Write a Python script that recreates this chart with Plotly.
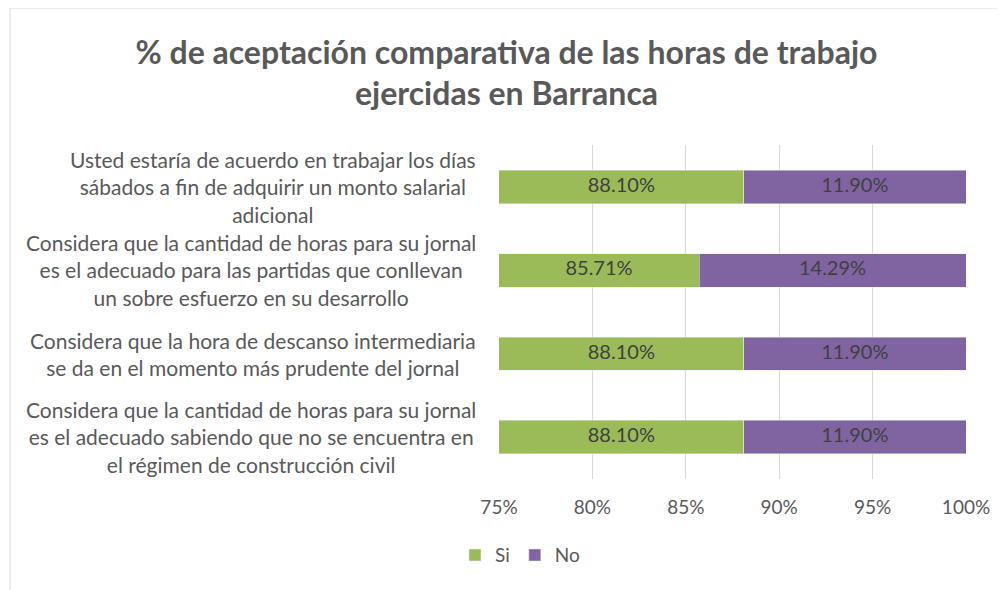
import plotly.graph_objects as go

preguntas = [
    "Usted estaría de acuerdo en trabajar los días<br>sábados a fin de adquirir un monto salarial<br>adicional",
    "Considera que la cantidad de horas para su jornal<br>es el adecuado para las partidas que conllevan<br>un sobre esfuerzo en su desarrollo",
    "Considera que la hora de descanso intermediaria<br>se da en el momento más prudente del jornal",
    "Considera que la cantidad de horas para su jornal<br>es el adecuado sabiendo que no se encuentra en<br>el régimen de construcción civil",
]
si = [88.10, 85.71, 88.10, 88.10]
no = [11.90, 14.29, 11.90, 11.90]

x_min, x_max = 75, 100
font = "Lato, 'Open Sans', sans-serif"

fig = go.Figure()
fig.add_trace(go.Bar(y=preguntas, x=si, name="Si", orientation="h",
                     marker=dict(color="#9BBB59"), width=0.4))
fig.add_trace(go.Bar(y=preguntas, x=no, name="No", orientation="h",
                     marker=dict(color="#8064A2"), width=0.4))

# etiquetas en el centro de la parte visible de cada segmento
fig.add_trace(go.Scatter(
    y=preguntas + preguntas,
    x=[(max(x_min, 0) + s) / 2 for s in si] + [s + n / 2 for s, n in zip(si, no)],
    text=[f"{v:.2f}%" for v in si + no],
    mode="text", textfont=dict(size=20, color="#404040", family=font),
    showlegend=False, hoverinfo="skip",
))

# etiquetas del eje y centradas, varias lineas
for p in preguntas:
    fig.add_annotation(x=0, xref="paper", y=p, yref="y", text=p,
                       xanchor="right", xshift=-21, align="center",
                       showarrow=False, font=dict(size=21, color="#595959", family=font))

fig.add_shape(type="rect", xref="paper", yref="paper",
              x0=-1.047, x1=1.2, y0=-0.34, y1=1.41,
              line=dict(color="#D9D9D9", width=1))

fig.update_layout(
    barmode="stack",
    width=997, height=582,
    margin=dict(l=491, r=39, t=137, b=111),
    paper_bgcolor="white", plot_bgcolor="white",
    font=dict(family=font, color="#595959"),
    title=dict(text="<b>% de aceptación comparativa de las horas de trabajo<br>ejercidas en Barranca</b>",
               x=0.5, xanchor="center", y=0.904, yanchor="middle",
               font=dict(size=32, color="#595959", family=font)),
    legend=dict(orientation="h", x=0.045, xanchor="center", y=-0.228, yanchor="middle",
                font=dict(size=19, color="#595959"), traceorder="normal"),
)
fig.update_xaxes(range=[x_min, x_max], dtick=5, ticksuffix="%", showgrid=True,
                 gridcolor="#D9D9D9", zeroline=False, tickfont=dict(size=19, color="#595959"),
                 ticks="", ticklabelstandoff=15)
fig.update_yaxes(autorange="reversed", showticklabels=False, showgrid=False, zeroline=False)

fig.write_html("out.html")
